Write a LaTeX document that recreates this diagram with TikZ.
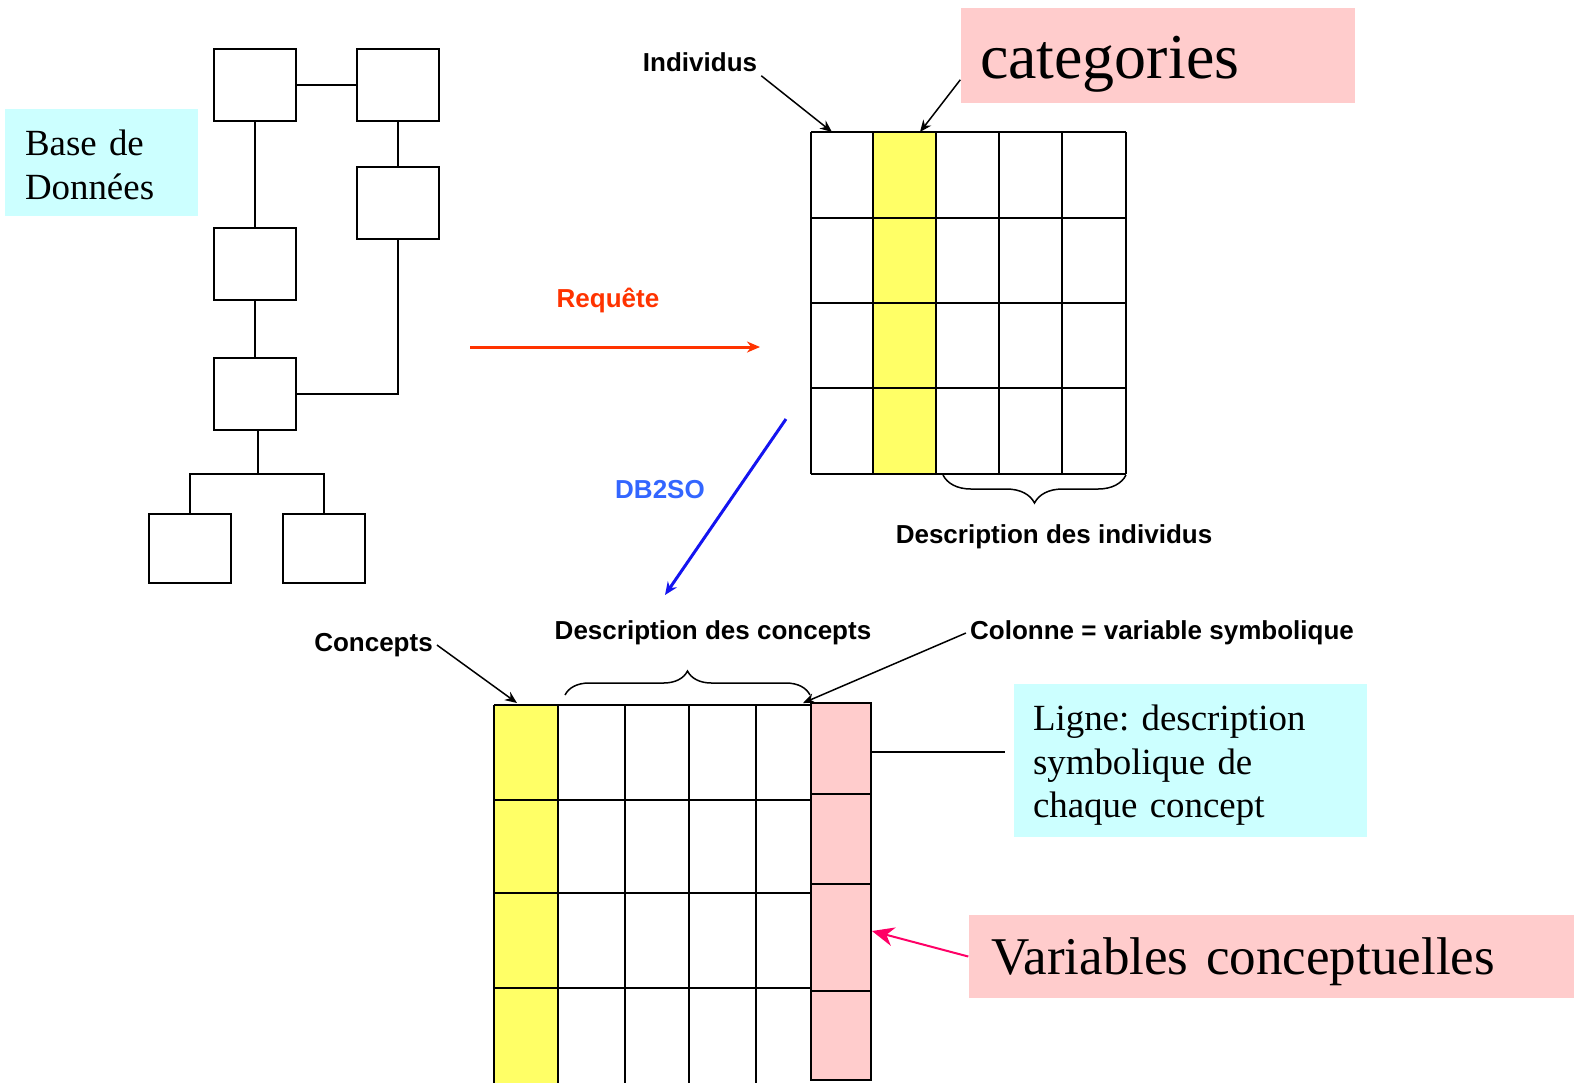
\documentclass[tikz,border=0pt]{standalone}
\usepackage{fontspec}
\setmainfont{Liberation Serif}
\setsansfont{Liberation Sans}
\usepackage{tikz}
\usetikzlibrary{arrows.meta,decorations.pathreplacing}
\definecolor{reqc}{RGB}{255,51,0}
\definecolor{dbtxt}{RGB}{51,102,255}
\definecolor{dbarr}{RGB}{20,20,240}
\definecolor{pnk}{RGB}{255,204,204}
\definecolor{yel}{RGB}{255,255,102}
\definecolor{cyn}{RGB}{204,255,255}
\definecolor{mag}{RGB}{255,0,102}
\frenchspacing

\begin{document}
\begin{tikzpicture}[x=0.1mm,y=-0.1mm,>={Stealth[length=1.2mm,width=1mm]},
  dbbox/.style={draw,line width=0.2mm,minimum width=8.2mm,minimum height=7.2mm},
  grid/.style={line width=0.2mm},
  arr/.style={->,line width=0.15mm},
  lbl/.style={font=\sffamily\bfseries\fontsize{7.4}{9}\selectfont,inner sep=1pt},
  txtbox/.style={font=\fontsize{10.5}{12.5}\selectfont,align=left,inner sep=0pt}]
\useasboundingbox (0,0) rectangle (1577,1083);

% base de donnees
\node[dbbox] (a) at (254.5,84.5) {};
\node[dbbox] (b) at (397.5,84.5) {};
\node[dbbox] (c) at (397.5,203) {};
\node[dbbox] (d) at (254.5,264) {};
\node[dbbox] (e) at (254.5,394) {};
\node[dbbox,minimum height=6.9mm] (f) at (190,548.5) {};
\node[dbbox,minimum height=6.9mm] (g) at (323.5,548.5) {};
\coordinate (split) at (258,474);
\draw[line width=0.2mm] (a) -- (b) (a) -- (d) (b) -- (c) (d) -- (e);
\draw[line width=0.2mm] (c.south) |- (e.east);
\draw[line width=0.2mm] (e.south -| split) -- (split);
\draw[line width=0.2mm] (f.north) |- (split) -| (g.north);
\node[fill=cyn,txtbox,minimum width=19.3mm,minimum height=10.7mm,text width=15.3mm,text height=7.8pt,text depth=11.9pt] (base) at (101.5,162.5) {Base de\\Données};

% requete
\node[lbl,text=reqc] (req) at (608,300) {Requête};
\coordinate (reqs) at (470,347);
\coordinate (reqe) at (760,347);
\draw[reqc,line width=0.3mm,-{Stealth[length=1.3mm,width=1.1mm]}] (reqs) -- (reqe);

% tableau des individus
\fill[yel] (873,132) rectangle (936,474);
\foreach \x in {811,873,936,999,1062,1126} \draw[grid] (\x,132) -- (\x,474);
\foreach \y in {132,218,303,388,474} \draw[grid] (811,\y) -- (1126,\y);
\node[lbl] (indiv) at (700,62) {Individus};
\coordinate (indcol) at (832,132);
\draw[arr] (indiv.south east) -- (indcol);
\node[fill=pnk,font=\fontsize{18.2}{22}\selectfont,align=left,inner sep=0pt,minimum width=39.4mm,minimum height=9.5mm,text width=35.6mm,text height=14pt,text depth=1.1pt] (cat) at (1158,55.5) {categories};
\coordinate (catcol) at (920,132);
\draw[arr] (cat.187) -- (catcol);
\coordinate (bri1) at (1126,475);
\coordinate (bri2) at (943,475);
\draw[decorate,decoration={brace,amplitude=2.8mm},line width=0.15mm] (bri1) -- (bri2);
\node[lbl] (descind) at (1054,537) {Description des individus};

% db2so
\node[lbl,text=dbtxt] (db2so) at (660,490) {DB2SO};
\coordinate (dbs) at (786,419);
\coordinate (dbe) at (665,595);
\draw[dbarr,line width=0.3mm,-{Stealth[length=1.3mm,width=1.1mm]}] (dbs) -- (dbe);

% tableau des concepts
\fill[yel] (494,705) rectangle (558,1083);
\fill[pnk] (811,703) rectangle (871,1080);
\foreach \x in {494,558,625,689,756} \draw[grid] (\x,705) -- (\x,1083);
\foreach \y in {705,800,893,988} \draw[grid] (494,\y) -- (811,\y);
\foreach \y in {794,884,991} \draw[grid] (811,\y) -- (871,\y);
\draw[grid] (811,703) rectangle (871,1080);
\node[lbl] (conc) at (373.5,645) {Concepts};
\coordinate (conccol) at (517,703);
\draw[arr] (conc.east) -- (conccol);
\coordinate (brc1) at (565,695);
\coordinate (brc2) at (810,695);
\draw[decorate,decoration={brace,amplitude=2.4mm},line width=0.15mm] (brc1) -- (brc2);
\node[lbl] (descconc) at (713,633) {Description des concepts};
\node[lbl] (colvar) at (1162,633) {Colonne = variable symbolique};
\coordinate (colend) at (803,703);
\draw[arr] (colvar.west) -- (colend);

% ligne
\node[fill=cyn,txtbox,minimum width=35.3mm,minimum height=15.3mm,text width=31.5mm,text height=8.6pt,text depth=25.9pt] (ligne) at (1190.5,760.5) {Ligne: description\\symbolique de\\chaque concept};
\coordinate (lignept) at (871,752);
\draw[line width=0.2mm,shorten >=0.8mm] (lignept) -- (lignept -| ligne.west);

% variables conceptuelles
\node[fill=pnk,font=\fontsize{15.1}{18}\selectfont,align=left,inner sep=0pt,minimum width=60.5mm,minimum height=8.3mm,text width=56.1mm,text height=11.4pt,text depth=1pt] (var) at (1271.5,956.5) {Variables conceptuelles};
\coordinate (varcol) at (872,931);
\draw[mag,line width=0.2mm,-{Stealth[length=2.2mm,width=1.9mm]}] (var.west) -- (varcol);
\end{tikzpicture}
\end{document}
